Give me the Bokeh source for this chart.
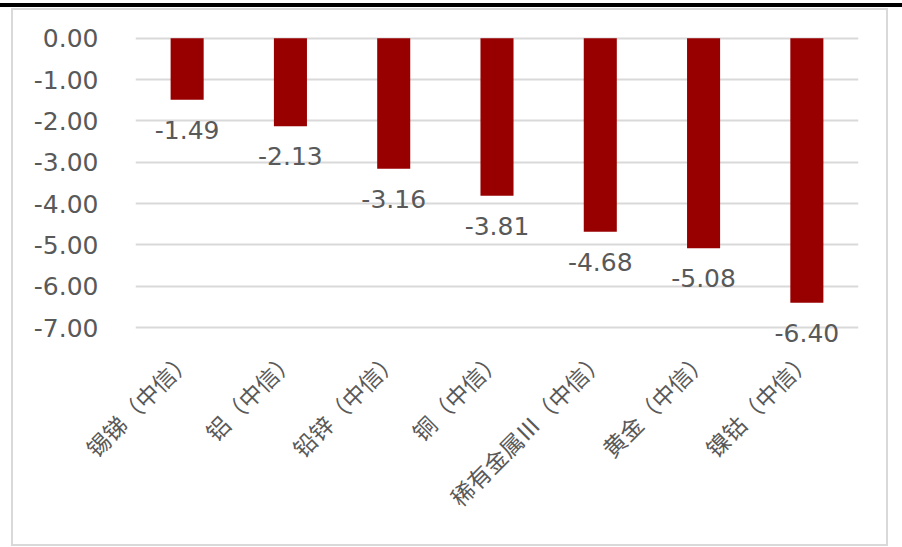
from bokeh.plotting import figure
from bokeh.models import ColumnDataSource, FixedTicker, NumeralTickFormatter
from bokeh.core.properties import value
from bokeh.embed import file_html
from bokeh.resources import INLINE
import math

categories = ["锡锑（中信）", "铝（中信）", "铅锌（中信）", "铜（中信）", "稀有金属Ⅲ（中信）", "黄金（中信）", "镍钴（中信）"]
values = [-1.49, -2.13, -3.16, -3.81, -4.68, -5.08, -6.40]
labels = ["-1.49", "-2.13", "-3.16", "-3.81", "-4.68", "-5.08", "-6.40"]
y_ticks = [0, -1, -2, -3, -4, -5, -6, -7]

W, H = 902, 547

src = ColumnDataSource(dict(cat=categories, val=values, zero=[0] * len(values), lab=labels))

p = figure(width=W, height=H, x_range=categories, y_range=(-7.6, 0.5),
           output_backend="svg", toolbar_location=None,
           min_border_left=135, min_border_right=W - 858, min_border_top=17, min_border_bottom=H - 352)
p.x_range.range_padding = 0

p.vbar(x="cat", top="zero", bottom="val", width=0.32, source=src, fill_color="#980000", line_color=None)
p.text(x="cat", y="val", text="lab", source=src, text_align="center", text_baseline="middle",
       y_offset=30, text_font=value("DejaVu Sans"), text_font_size="25px", text_color="#595959")

p.outline_line_color = None
p.xgrid.grid_line_color = None
p.ygrid.grid_line_color = "#d9d9d9"
p.ygrid.grid_line_width = 2

p.yaxis.ticker = FixedTicker(ticks=y_ticks)
p.yaxis.formatter = NumeralTickFormatter(format="0.00")
p.yaxis.axis_line_color = None
p.yaxis.major_tick_line_color = None
p.yaxis.minor_tick_line_color = None
p.yaxis.major_tick_out = 0
p.yaxis.major_tick_in = 0
p.yaxis.major_label_standoff = 37
p.yaxis.major_label_text_font = "DejaVu Sans"
p.yaxis.major_label_text_font_size = "25px"
p.yaxis.major_label_text_color = "#595959"

p.xaxis.axis_line_color = None
p.xaxis.major_tick_line_color = None
p.xaxis.minor_tick_line_color = None
p.xaxis.major_tick_out = 0
p.xaxis.major_tick_in = 0
p.xaxis.major_label_standoff = 2
p.xaxis.major_label_orientation = math.pi / 4
p.xaxis.major_label_text_font = "Noto Sans CJK SC"
p.xaxis.major_label_text_font_size = "23px"
p.xaxis.major_label_text_color = "#595959"

p.stylesheets = [
    ":host { position: relative; }"
    ":host::after { content: ''; position: absolute; left: 11px; top: 8px; width: 877px; height: 538px;"
    " box-sizing: border-box; border: 2px solid #d9d9d9; pointer-events: none; z-index: 10; }"
    ":host::before { content: ''; position: absolute; left: 0px; top: 3px; width: 902px; height: 4px;"
    " background: #000000; pointer-events: none; z-index: 10; }"
]

open("out.html", "w").write(file_html(p, INLINE))
